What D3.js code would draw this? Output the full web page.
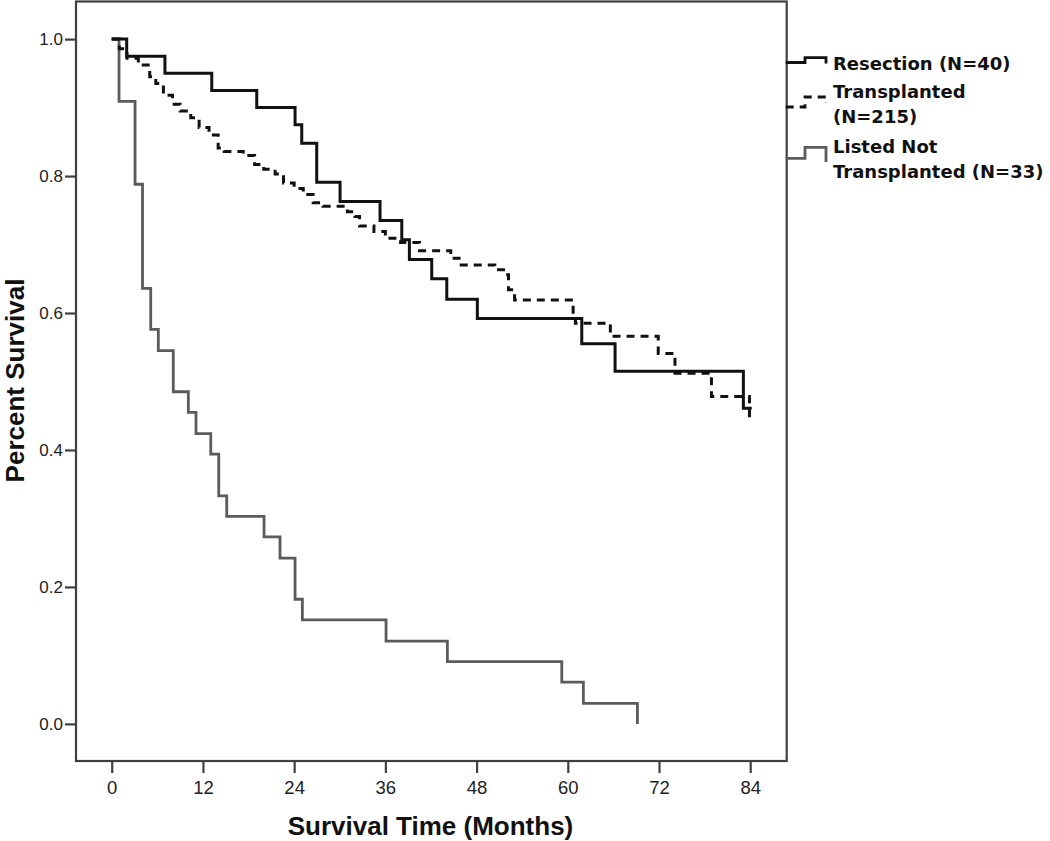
<!DOCTYPE html>
<html>
<head>
<meta charset="utf-8">
<script src="https://cdn.jsdelivr.net/npm/d3@7"></script>
<style>
  html, body { margin: 0; padding: 0; background: #fff; }
  svg { display: block; }
</style>
</head>
<body>
<svg id="chart" width="1050" height="841"></svg>
<script>
// ---------- data (months, survival after each step) ----------
const xTicks = [0, 12, 24, 36, 48, 60, 72, 84];
const yTicks = [0.0, 0.2, 0.4, 0.6, 0.8, 1.0];

const resectionTimes  = [0, 1.97, 7.0, 13.16, 19.08, 24.12, 25.0, 26.97, 30.04, 35.3, 38.16, 39.16, 42.1, 44.08, 48.1, 61.84, 66.22, 83.1, 84.2];
const resectionValues = [1.0, 0.975, 0.950, 0.925, 0.900, 0.875, 0.848, 0.791, 0.763, 0.735, 0.707, 0.678, 0.650, 0.620, 0.592, 0.555, 0.515, 0.461, 0.461];

const transplantTimes  = [0, 1.0, 2.0, 3.5, 5.0, 5.8, 6.8, 8.0, 9.0, 10.4, 11.5, 12.8, 14.0, 14.8, 17.3, 18.8, 20.0, 21.5, 22.6, 24.0, 25.2, 26.5, 27.8, 31.0, 32.0, 32.6, 34.5, 36.0, 38.0, 40.5, 44.6, 45.7, 50.4, 51.8, 52.2, 53.0, 60.7, 61.0, 65.6, 71.9, 74.1, 78.9, 83.9, 84.05];
const transplantValues = [1.0, 0.986, 0.972, 0.962, 0.945, 0.935, 0.918, 0.905, 0.895, 0.885, 0.871, 0.860, 0.841, 0.836, 0.830, 0.817, 0.810, 0.803, 0.790, 0.782, 0.773, 0.761, 0.756, 0.748, 0.741, 0.727, 0.719, 0.709, 0.703, 0.691, 0.680, 0.670, 0.663, 0.656, 0.634, 0.619, 0.595, 0.585, 0.566, 0.541, 0.512, 0.478, 0.445, 0.445];

const listedTimes  = [0, 0.96, 3.07, 4.05, 5.13, 6.13, 8.1, 10.08, 11.09, 13.03, 14.08, 15.13, 20.04, 22.14, 24.12, 25.08, 36.09, 44.16, 59.21, 62.05, 69.16];
const listedValues = [1.0, 0.909, 0.788, 0.636, 0.576, 0.545, 0.485, 0.455, 0.424, 0.394, 0.333, 0.303, 0.273, 0.242, 0.182, 0.152, 0.121, 0.091, 0.061, 0.030, 0.0];

const seriesNames = ["Resection (N=40)", ["Transplanted", "(N=215)"], ["Listed Not", "Transplanted (N=33)"]];

// ---------- layout ----------
const svg = d3.select("#chart");
const frame = { left: 76, top: 1.5, right: 786.7, bottom: 761 };
const frameColor = "#404040";

const x = d3.scaleLinear().domain([-4.7, 88.8]).range([frame.left, frame.right]);
const y = d3.scaleLinear().domain([-0.0542, 1.0549]).range([frame.bottom, frame.top]);

// frame
svg.append("rect")
  .attr("x", frame.left).attr("y", frame.top)
  .attr("width", frame.right - frame.left)
  .attr("height", frame.bottom - frame.top)
  .attr("fill", "none").attr("stroke", frameColor).attr("stroke-width", 2.2);

// axes
const xAxis = svg.append("g")
  .attr("transform", `translate(0,${frame.bottom})`)
  .call(d3.axisBottom(x).tickValues(xTicks).tickSize(12).tickSizeOuter(0).tickPadding(8).tickFormat(d3.format("d")));
xAxis.select(".domain").remove();
xAxis.selectAll(".tick line").attr("stroke", frameColor).attr("stroke-width", 2.2);
xAxis.selectAll(".tick text")
  .attr("font-family", "'Liberation Sans', Arial, sans-serif")
  .attr("font-size", 18.5).attr("fill", "#222");

const yAxis = svg.append("g")
  .attr("transform", `translate(${frame.left},0)`)
  .call(d3.axisLeft(y).tickValues(yTicks).tickSize(11).tickSizeOuter(0).tickPadding(2).tickFormat(d3.format(".1f")));
yAxis.select(".domain").remove();
yAxis.selectAll(".tick line").attr("stroke", frameColor).attr("stroke-width", 2.2);
yAxis.selectAll(".tick text")
  .attr("font-family", "'Liberation Sans', Arial, sans-serif")
  .attr("font-size", 17).attr("fill", "#222");

// axis titles
svg.append("text")
  .attr("x", 430.5).attr("y", 835)
  .attr("text-anchor", "middle")
  .attr("font-family", "'Liberation Sans', Arial, sans-serif")
  .attr("font-weight", "bold").attr("font-size", 26).attr("fill", "#111")
  .text("Survival Time (Months)");

svg.append("text")
  .attr("transform", `translate(24,${(y(0) + y(1)) / 2 - 1}) rotate(-90)`)
  .attr("text-anchor", "middle")
  .attr("font-family", "'Liberation Sans', Arial, sans-serif")
  .attr("font-weight", "bold").attr("font-size", 26).attr("fill", "#111")
  .text("Percent Survival");

// curves
const line = d3.line().x(d => x(d[0])).y(d => y(d[1])).curve(d3.curveStepAfter);
const zip = (t, v) => t.map((tt, i) => [tt, v[i]]);

const series = [
  { data: zip(listedTimes, listedValues), color: "#5b5b5b", dash: null, width: 2.8 },
  { data: zip(transplantTimes, transplantValues), color: "#111", dash: "8,6", width: 3 },
  { data: zip(resectionTimes, resectionValues), color: "#111", dash: null, width: 3 }
];

svg.append("g").selectAll("path").data(series).join("path")
  .attr("d", d => line(d.data))
  .attr("fill", "none")
  .attr("stroke", d => d.color)
  .attr("stroke-width", d => d.width)
  .attr("stroke-dasharray", d => d.dash)
  .attr("stroke-linejoin", "miter")
  .attr("stroke-linecap", "butt");

// legend
const legend = svg.append("g");
const legendItems = [
  { lines: [seriesNames[0]], baselines: [69.5], sym: { low: 62.5, high: 57.7, end: 63.5 }, color: "#111", dash: null },
  { lines: seriesNames[1], baselines: [98, 122.5], sym: { low: 107, high: 97, end: 103 }, color: "#111", dash: "8,6" },
  { lines: seriesNames[2], baselines: [152.5, 177.5], sym: { low: 158.3, high: 147.3, end: 162 }, color: "#5b5b5b", dash: null }
];
const symX0 = frame.right - 1, symX1 = 805, symX2 = 826;
legendItems.forEach(it => {
  const p = d3.path();
  p.moveTo(symX0, it.sym.low);
  p.lineTo(symX1, it.sym.low);
  p.lineTo(symX1, it.sym.high);
  p.lineTo(symX2, it.sym.high);
  p.lineTo(symX2, it.sym.end);
  legend.append("path")
    .attr("d", p.toString())
    .attr("fill", "none").attr("stroke", it.color).attr("stroke-width", 2.8)
    .attr("stroke-dasharray", it.dash);
  it.lines.forEach((t, i) => {
    legend.append("text")
      .attr("x", 833).attr("y", it.baselines[i])
      .attr("font-family", "'DejaVu Sans', sans-serif")
      .attr("font-weight", "bold").attr("font-size", 18).attr("fill", "#111")
      .text(t);
  });
});
</script>
</body>
</html>
